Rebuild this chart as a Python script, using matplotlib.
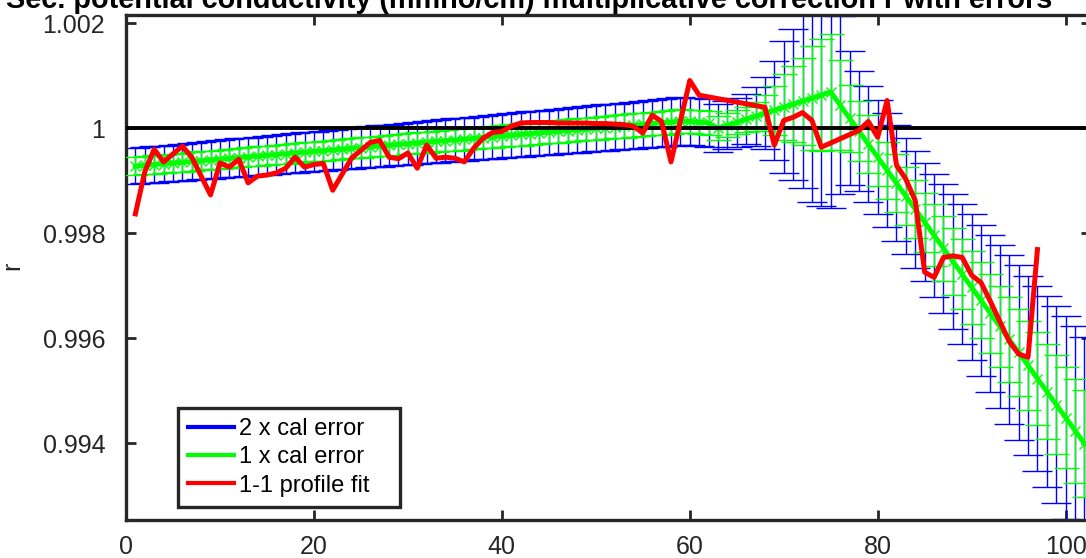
import numpy as np
import matplotlib.pyplot as plt
from matplotlib.lines import Line2D

plt.rcParams['font.family'] = ['Liberation Sans', 'DejaVu Sans']

# bin index along the profile
idx = np.arange(1, 103)

# fitted correction r at each bin
fit_r = [
    0.99928, 0.999295, 0.999309, 0.999324, 0.999339, 0.999353, 0.999368, 0.999383, 0.999398, 0.999412,
    0.999427, 0.999442, 0.999456, 0.999471, 0.999486, 0.999500, 0.999515, 0.999530, 0.999545, 0.999559,
    0.999574, 0.999589, 0.999603, 0.999618, 0.999633, 0.999647, 0.999662, 0.999677, 0.999692, 0.999706,
    0.999721, 0.999736, 0.999750, 0.999765, 0.999780, 0.999794, 0.999809, 0.999824, 0.999839, 0.999853,
    0.999868, 0.999883, 0.999897, 0.999912, 0.999927, 0.999941, 0.999956, 0.999971, 0.999986, 1.000000,
    1.000015, 1.000030, 1.000044, 1.000059, 1.000074, 1.000088, 1.000103, 1.000118, 1.000133, 1.000130,
    1.000120, 1.000100, 1.000000, 1.000058, 1.000115, 1.000173, 1.000230, 1.000288, 1.000345, 1.000403,
    1.000460, 1.000518, 1.000575, 1.000633, 1.000690, 1.000442, 1.000194, 0.999946, 0.999698, 0.999450,
    0.999202, 0.998954, 0.998706, 0.998458, 0.998210, 0.997962, 0.997714, 0.997466, 0.997218, 0.996970,
    0.996722, 0.996474, 0.996226, 0.995978, 0.995730, 0.995482, 0.995234, 0.994986, 0.994738, 0.994490,
    0.994242, 0.993994,
]

# calibration error (1x), units of 1e-4
cal_err = np.array([
    1.71, 1.72, 1.73, 1.74, 1.75, 1.76, 1.77, 1.78, 1.79, 1.80,
    1.81, 1.82, 1.83, 1.84, 1.85, 1.86, 1.87, 1.87, 1.88, 1.89,
    1.90, 1.91, 1.92, 1.93, 1.94, 1.95, 1.96, 1.97, 1.98, 1.99,
    2.00, 2.01, 2.02, 2.03, 2.04, 2.05, 2.06, 2.07, 2.08, 2.09,
    2.10, 2.11, 2.12, 2.13, 2.14, 2.15, 2.16, 2.17, 2.18, 2.19,
    2.20, 2.21, 2.22, 2.23, 2.24, 2.25, 2.26, 2.27, 2.27, 2.28,
    2.28, 2.29, 2.30, 2.30, 2.32, 2.40, 2.80, 3.40, 4.70, 6.30,
    7.20, 8.30, 9.90, 10.6, 11.0, 8.50, 6.40, 5.70, 5.50, 5.40,
    5.45, 5.50, 5.50, 5.55, 5.60, 5.87, 6.14, 6.41, 6.68, 6.95,
    7.22, 7.49, 7.76, 8.03, 8.30, 8.57, 8.84, 9.11, 9.38, 9.65,
    9.92, 10.2,
]) * 1e-4

# 1-1 profile fit
prof_x = [1, 2, 3, 4, 5, 6, 7, 9, 10, 11, 12, 13, 14, 15, 16, 17, 18, 19, 20, 21,
          22, 24, 26, 27, 28, 29, 30, 31, 32, 33, 34, 35, 36, 37, 38, 39, 40, 41, 42, 43,
          44, 45, 46, 47, 48, 49, 50, 51, 52, 53, 54, 55, 56, 57, 58, 60, 61, 68, 69, 70,
          71, 72, 73, 74, 78, 79, 80, 81, 82, 83, 84, 85, 86, 87, 88, 89, 90, 91, 92, 93,
          94, 95, 96, 97]
prof_r = [0.99837, 0.99917, 0.99960, 0.99936, 0.99951, 0.99966, 0.99945, 0.99873, 0.99934, 0.99926,
          0.99941, 0.99896, 0.99909, 0.99911, 0.99915, 0.99924, 0.99945, 0.99926, 0.99931, 0.99933,
          0.99882, 0.99943, 0.99973, 0.99977, 0.99945, 0.99942, 0.99953, 0.99924, 0.99968, 0.99943,
          0.99945, 0.99943, 0.99936, 0.99962, 0.99981, 0.99992, 0.99994, 1.00004, 1.00010, 1.00011,
          1.00011, 1.00011, 1.00010, 1.00010, 1.00010, 1.00010, 1.00009, 1.00009, 1.00008, 1.00007,
          1.00004, 0.99991, 1.00025, 1.00013, 0.99936, 1.00091, 1.00063, 1.00040, 0.99968, 1.00015,
          1.00021, 1.00030, 1.00015, 0.99964, 0.99996, 1.00013, 0.99983, 1.00053, 0.99930, 0.99903,
          0.99862, 0.99726, 0.99716, 0.99754, 0.99757, 0.99754, 0.99720, 0.99706, 0.99670, 0.99632,
          0.99594, 0.99570, 0.99564, 0.99769]

dark = '#262626'
green = (0, 1, 0)

fig = plt.figure(figsize=(10.86, 5.58), dpi=100)
ax = fig.add_axes([0.1160, 0.0681, 0.8886, 0.905])

ax.errorbar(idx, fit_r, yerr=2 * cal_err, fmt='-', color='b', lw=1.0,
            capsize=11, capthick=1.0, zorder=2)
ax.errorbar(idx, fit_r, yerr=cal_err, fmt='none', ecolor=green, elinewidth=1.0,
            capsize=9, capthick=1.0, zorder=3)
ax.plot(idx, fit_r, '-x', color=green, lw=3.5, ms=7, mew=1.0, zorder=4)
ax.axhline(1.0, color='k', lw=2.8, zorder=5)
ax.plot(prof_x, prof_r, '-', color='r', lw=3.6, zorder=6)

ax.set_xlim(0, 102.7)
ax.set_ylim(0.992539, 1.002158)
ax.set_xticks([0, 20, 40, 60, 80, 100])
ax.set_yticks([0.994, 0.996, 0.998, 1.0, 1.002])
ax.set_yticklabels(['0.994', '0.996', '0.998', '1', '1.002'])

for s in ax.spines.values():
    s.set_linewidth(2.4)
    s.set_color(dark)
ax.tick_params(direction='in', length=7, width=2, colors=dark, labelsize=18,
               top=True, right=True)
ax.tick_params(axis='y', pad=15)
ax.tick_params(axis='x', pad=10.5)

fig.text(12 / 1086, 1 - 266 / 558, 'r', rotation=90, ha='center', va='center',
         fontsize=18, color=dark)

handles = [Line2D([], [], color='b', lw=3),
           Line2D([], [], color=green, lw=3),
           Line2D([], [], color='r', lw=3)]
leg = ax.legend(handles, ['2 x cal error', '1 x cal error', '1-1 profile fit'],
                loc='upper left',
                bbox_to_anchor=(178 / 1086, 1 - 504 / 558, 222 / 1086, 96 / 558),
                bbox_transform=fig.transFigure, mode='expand', fontsize=17,
                frameon=True, fancybox=False, framealpha=1, edgecolor=dark,
                borderpad=0.42, handlelength=1.95, handletextpad=0.2,
                labelspacing=0.27, borderaxespad=0)
leg.get_frame().set_linewidth(2.4)

fig.text(1052 / 1086, 1 - 8 / 558,
         'Sec. potential conductivity (mmho/cm) multiplicative correction r with errors',
         ha='right', va='baseline', fontsize=20.8, fontweight='bold', color='k')

fig.savefig('out.png', dpi=100)
